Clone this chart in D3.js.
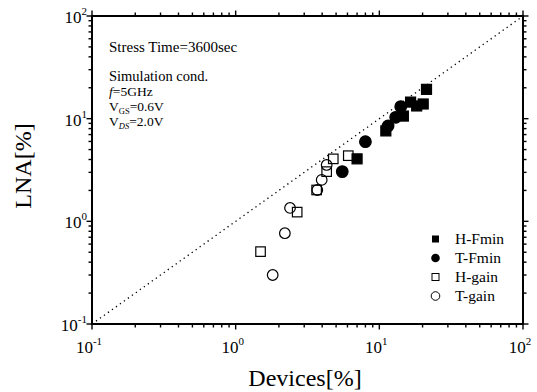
<!DOCTYPE html>
<html><head><meta charset="utf-8">
<script src="https://cdn.jsdelivr.net/npm/d3@7/dist/d3.min.js"></script>
<style>body{margin:0;background:#fff}svg{display:block}text{font-family:"Liberation Serif","Times New Roman",serif;fill:#000}</style>
</head><body><svg id="c" width="537" height="392"></svg>
<script>
const xTicks = [0.1, 1, 10, 100];
const yTicks = [0.1, 1, 10, 100];
const tickExp = ["-1", "0", "1", "2"];

const hFmin = [[21.3,19.3],[20.2,13.9],[18.2,13.3],[16.5,14.5],[14.7,10.6],[11.1,7.6],[7.0,4.06]];
const tFmin = [[14.1,13.1],[13.0,10.3],[11.5,8.5],[8.0,5.97],[5.52,3.05]];
const hGain = [[6.08,4.36],[4.78,4.06],[4.30,3.05],[3.66,2.02],[2.68,1.23],[1.49,0.507]];
const tGain = [[4.30,3.54],[3.97,2.53],[3.70,2.02],[2.39,1.35],[2.20,0.766],[1.81,0.30]];
const legendNames = ["H-Fmin","T-Fmin","H-gain","T-gain"];

const svg = d3.select("#c");
const L=92,R=523,T=16,B=324;
const x = d3.scaleLog().domain([0.1,100]).range([L,R]);
const y = d3.scaleLog().domain([0.1,100]).range([B,T]);

// minor ticks
const minors = [];
for (let d=0.1; d<100; d*=10) for (let k=2;k<=9;k++) minors.push(d*k);
const tk = svg.append("g").attr("stroke","#000").attr("stroke-width",1.4);
minors.forEach(v=>{
  tk.append("line").attr("x1",x(v)).attr("x2",x(v)).attr("y1",B).attr("y2",B+3.5);
  tk.append("line").attr("x1",x(v)).attr("x2",x(v)).attr("y1",T).attr("y2",T-3.5);
  tk.append("line").attr("y1",y(v)).attr("y2",y(v)).attr("x1",L).attr("x2",L-3.5);
  tk.append("line").attr("y1",y(v)).attr("y2",y(v)).attr("x1",R).attr("x2",R+3.5);
});
xTicks.forEach(v=>{
  tk.append("line").attr("x1",x(v)).attr("x2",x(v)).attr("y1",B).attr("y2",B+5.5);
  tk.append("line").attr("x1",x(v)).attr("x2",x(v)).attr("y1",T).attr("y2",T-5.5);
});
yTicks.forEach(v=>{
  tk.append("line").attr("y1",y(v)).attr("y2",y(v)).attr("x1",L).attr("x2",L-5.5);
  tk.append("line").attr("y1",y(v)).attr("y2",y(v)).attr("x1",R).attr("x2",R+5.5);
});

// diagonal
svg.append("line").attr("x1",x(0.1)).attr("y1",y(0.1)).attr("x2",x(100)).attr("y2",y(100))
  .attr("stroke","#000").attr("stroke-width",1.3).attr("stroke-dasharray","1.3,3.6");

// frame
svg.append("rect").attr("x",L).attr("y",T).attr("width",R-L).attr("height",B-T)
  .attr("fill","none").attr("stroke","#000").attr("stroke-width",2);

// tick labels
xTicks.forEach((v,i)=>{
  const t = svg.append("text").attr("x",x(v)-3).attr("y",353).attr("text-anchor","middle").attr("font-size",17);
  t.append("tspan").text("10");
  t.append("tspan").attr("font-size",11).attr("dy",-8).text(tickExp[i]);
});
yTicks.forEach((v,i)=>{
  const t = svg.append("text").attr("x",L-5).attr("y",y(v)+7).attr("text-anchor","end").attr("font-size",17);
  t.append("tspan").text("10");
  t.append("tspan").attr("font-size",11).attr("dy",-8).text(tickExp[i]);
});

// axis titles
svg.append("text").attr("x",305).attr("y",386).attr("text-anchor","middle").attr("font-size",24).text("Devices[%]");
svg.append("text").attr("transform","translate(31,166) rotate(-90)").attr("text-anchor","middle").attr("font-size",24).text("LNA[%]");

// annotations
const ann = svg.append("g").attr("font-size",13.5);
ann.append("text").attr("x",109).attr("y",52).attr("font-size",15).text("Stress Time=3600sec");
ann.append("text").attr("x",109).attr("y",81).attr("font-size",14.5).text("Simulation cond.");
const f = ann.append("text").attr("x",109).attr("y",96);
f.append("tspan").attr("font-style","italic").text("f");
f.append("tspan").text("=5GHz");
const vg = ann.append("text").attr("x",109).attr("y",111);
vg.append("tspan").text("V");
vg.append("tspan").attr("font-size",8.5).attr("dy",2.5).text("GS");
vg.append("tspan").attr("dy",-2.5).text("=0.6V");
const vd = ann.append("text").attr("x",109).attr("y",126);
vd.append("tspan").text("V");
vd.append("tspan").attr("font-size",8.5).attr("font-style","italic").attr("dy",2.5).text("DS");
vd.append("tspan").attr("dy",-2.5).text("=2.0V");

// marks
function squares(data, filled, s){
  svg.append("g").selectAll("rect").data(data).join("rect")
    .attr("x",d=>x(d[0])-s/2).attr("y",d=>y(d[1])-s/2).attr("width",s).attr("height",s)
    .attr("fill",filled?"#000":"#fff").attr("stroke","#000").attr("stroke-width",1.2);
}
function circles(data, filled, r){
  svg.append("g").selectAll("circle").data(data).join("circle")
    .attr("cx",d=>x(d[0])).attr("cy",d=>y(d[1])).attr("r",r)
    .attr("fill",filled?"#000":"none").attr("stroke","#000").attr("stroke-width",1.2);
}
squares(hGain,false,9.5);
circles(tGain,false,5.3);
squares(hFmin,true,10);
circles(tFmin,true,5.8);

// legend
const lg = svg.append("g");
const ly = [239,258,277,296];
lg.append("rect").attr("x",432).attr("y",ly[0]-3.5).attr("width",7).attr("height",7).attr("fill","#000");
lg.append("circle").attr("cx",435.5).attr("cy",ly[1]).attr("r",4.3).attr("fill","#000");
lg.append("rect").attr("x",432).attr("y",ly[2]-3.5).attr("width",7).attr("height",7).attr("fill","#fff").attr("stroke","#000").attr("stroke-width",1);
lg.append("circle").attr("cx",435.5).attr("cy",ly[3]).attr("r",4.3).attr("fill","none").attr("stroke","#000").attr("stroke-width",1);
legendNames.forEach((n,i)=>{
  lg.append("text").attr("x",455).attr("y",ly[i]+5).attr("font-size",15.5).text(n);
});
</script></body></html>
